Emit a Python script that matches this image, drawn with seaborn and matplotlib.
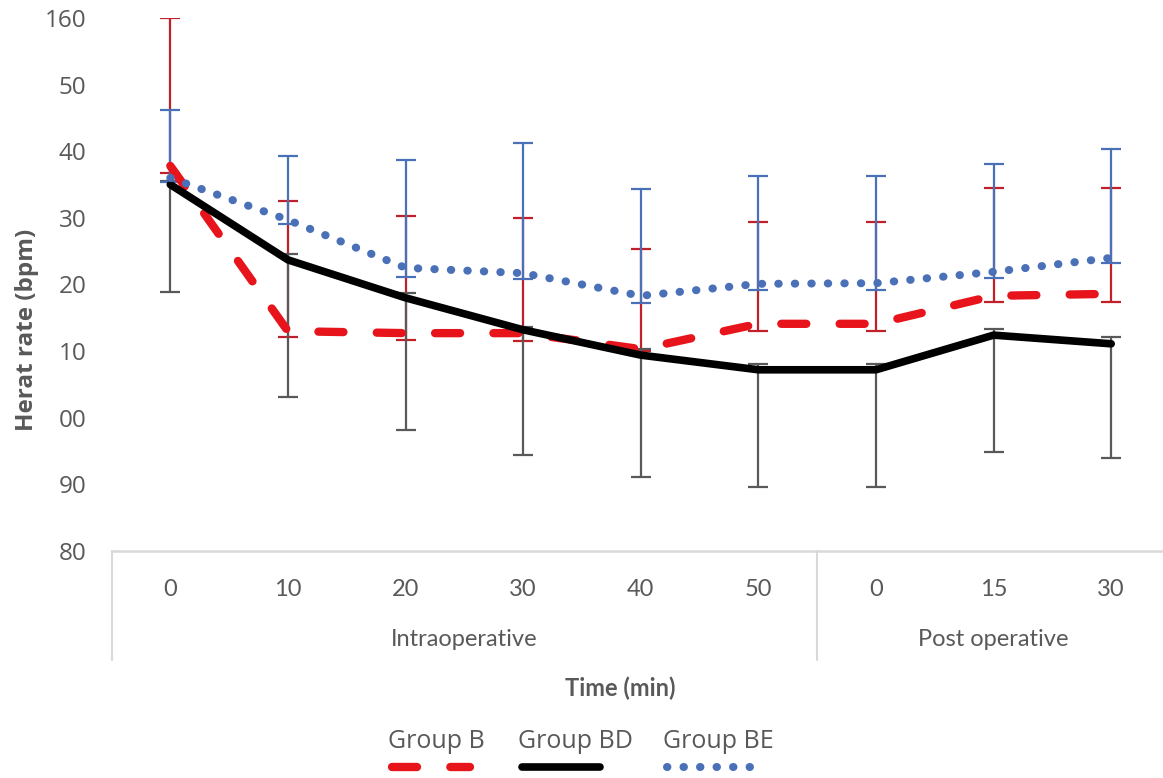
import numpy as np
import pandas as pd
import matplotlib
matplotlib.use("Agg")
import matplotlib.pyplot as plt
import matplotlib.transforms as mtransforms
from matplotlib.lines import Line2D
import seaborn as sns

###############################################################################
# data
tick_labels = ["0", "10", "20", "30", "40", "50", "0", "15", "30"]
phases = ["Intraoperative", "Post operative"]
phase_sizes = [6, 3]

groups = ["Group B", "Group BD", "Group BE"]

b_mean = [137.8, 113.0, 112.7, 112.7, 110.3, 114.1, 114.1, 118.3, 118.6]
b_high = [160.0, 132.5, 130.3, 130.0, 125.3, 129.4, 129.4, 134.5, 134.5]
b_low = [136.8, 112.1, 111.7, 111.5, 110.0, 113.0, 113.0, 117.4, 117.4]

bd_mean = [135.0, 123.7, 118.0, 113.2, 109.4, 107.2, 107.2, 112.4, 111.1]
bd_high = [135.6, 124.6, 118.7, 113.6, 110.3, 108.1, 108.1, 113.3, 112.1]
bd_low = [118.9, 103.1, 98.2, 94.4, 91.1, 89.6, 89.6, 94.9, 94.0]

be_mean = [136.0, 129.7, 122.5, 121.7, 118.3, 120.1, 120.2, 121.9, 124.0]
be_high = [146.2, 139.3, 138.7, 141.2, 134.3, 136.3, 136.3, 138.1, 140.3]
be_low = [135.4, 129.1, 121.1, 120.8, 117.2, 119.2, 119.2, 121.0, 123.2]

y_ticks = [80, 90, 100, 110, 120, 130, 140, 150, 160]
y_tick_labels = ["80", "90", "00", "10", "20", "30", "40", "50", "160"]

###############################################################################
line_col = {"Group B": "#e8141b", "Group BD": "#000000", "Group BE": "#4a70b8"}
err_col = {"Group B": "#c0202a", "Group BD": "#595959", "Group BE": "#4a70b8"}
dash_map = {"Group B": (3.0, 4.0), "Group BD": "", "Group BE": (0.05, 2.0)}
line_w = {"Group B": 6, "Group BD": 5.5, "Group BE": 5.8}
txt = "#595959"
frame = "#d9d9d9"
narrow = ["Lato", "Open Sans"]

sns.set_theme(style="white")
plt.rcParams["font.family"] = ["Open Sans", "DejaVu Sans"]
plt.rcParams["lines.dash_capstyle"] = "round"
plt.rcParams["lines.solid_capstyle"] = "round"

pos = np.arange(len(tick_labels))
df = pd.DataFrame({
    "pos": np.tile(pos, 3),
    "rate": b_mean + bd_mean + be_mean,
    "group": np.repeat(groups, len(pos)),
})

W, H = 1163, 778
fig = plt.figure(figsize=(W / 100, H / 100), dpi=100)
ax_l, ax_r, ax_b, ax_t = 111.5, 1170, 551, 18
ax = fig.add_axes([ax_l / W, 1 - ax_b / H, (ax_r - ax_l) / W, (ax_b - ax_t) / H])

# error bars: B under BD under BE
series = [("Group B", b_mean, b_low, b_high, 2),
          ("Group BD", bd_mean, bd_low, bd_high, 2.1),
          ("Group BE", be_mean, be_low, be_high, 2.2)]
for g, m, lo, hi, z in series:
    m, lo, hi = np.array(m), np.array(lo), np.array(hi)
    ax.errorbar(pos, m, yerr=[m - lo, hi - m], fmt="none", ecolor=err_col[g],
                elinewidth=1.6, capsize=7, capthick=1.6, zorder=z)

n_before = len(ax.lines)
sns.lineplot(data=df, x="pos", y="rate", hue="group", style="group",
             palette=line_col, dashes=dash_map, linewidth=5, legend=False,
             ax=ax, zorder=3)
for ln, g in zip(ax.lines[n_before:], groups):
    ln.set_solid_joinstyle("round")
    ln.set_linewidth(line_w[g])
    if dash_map[g]:
        ln.set_dashes(dash_map[g])

ax.set_xlim(-0.5, len(pos) - 0.5)
ax.set_ylim(80, 160)
ax.set_yticks(y_ticks)
ax.set_yticklabels(y_tick_labels, fontsize=17.5, color=txt)
ax.set_xticks(pos)
ax.set_xticklabels(tick_labels, fontsize=17, color=txt, family=narrow)
ax.tick_params(axis="y", length=0, pad=18)
ax.tick_params(axis="x", length=0, pad=20)
ax.set_xlabel("")
ax.set_ylabel("")
for s in ["left", "right", "top"]:
    ax.spines[s].set_visible(False)
ax.spines["bottom"].set_color(frame)
ax.spines["bottom"].set_linewidth(1.8)

# category bracket under the axis
trans = mtransforms.blended_transform_factory(ax.transData, ax.transAxes)
depth = -(660 - 551) / (551 - 18)
edges = np.concatenate([[-0.5], np.cumsum(phase_sizes) - 0.5])
for e in edges:
    ax.add_line(Line2D([e, e], [0, depth], transform=trans, color=frame,
                       lw=1.5, clip_on=False))
for i, p in enumerate(phases):
    c = (edges[i] + edges[i + 1]) / 2
    ax.text(c, -(640 - 551) / (551 - 18), p, transform=trans, ha="center",
            va="center", fontsize=17, color=txt, family=narrow)

fig.text(620 / W, 1 - 688 / H, "Time (min)", ha="center", va="center",
         fontsize=17, fontweight="bold", color=txt, family=narrow)
fig.text(27 / W, 1 - 330 / H, "Herat rate (bpm)", rotation=90, ha="center",
         va="center", fontsize=17.5, fontweight="bold", color=txt)

# legend: label above its line sample
leg_x = [388, 518, 663]
leg_len = [82, 82, 90]
for g, x0, ll in zip(groups, leg_x, leg_len):
    fig.text(x0 / W, 1 - 742 / H, g, ha="left", va="center", fontsize=18,
             color=txt)
    kw = dict(color=line_col[g], lw=line_w[g], transform=fig.transFigure)
    if dash_map[g]:
        kw["dashes"] = dash_map[g]
    fig.add_artist(Line2D([(x0 + 4) / W, (x0 + ll) / W],
                          [1 - 767 / H, 1 - 767 / H], **kw))

fig.savefig("out.png", dpi=100)
